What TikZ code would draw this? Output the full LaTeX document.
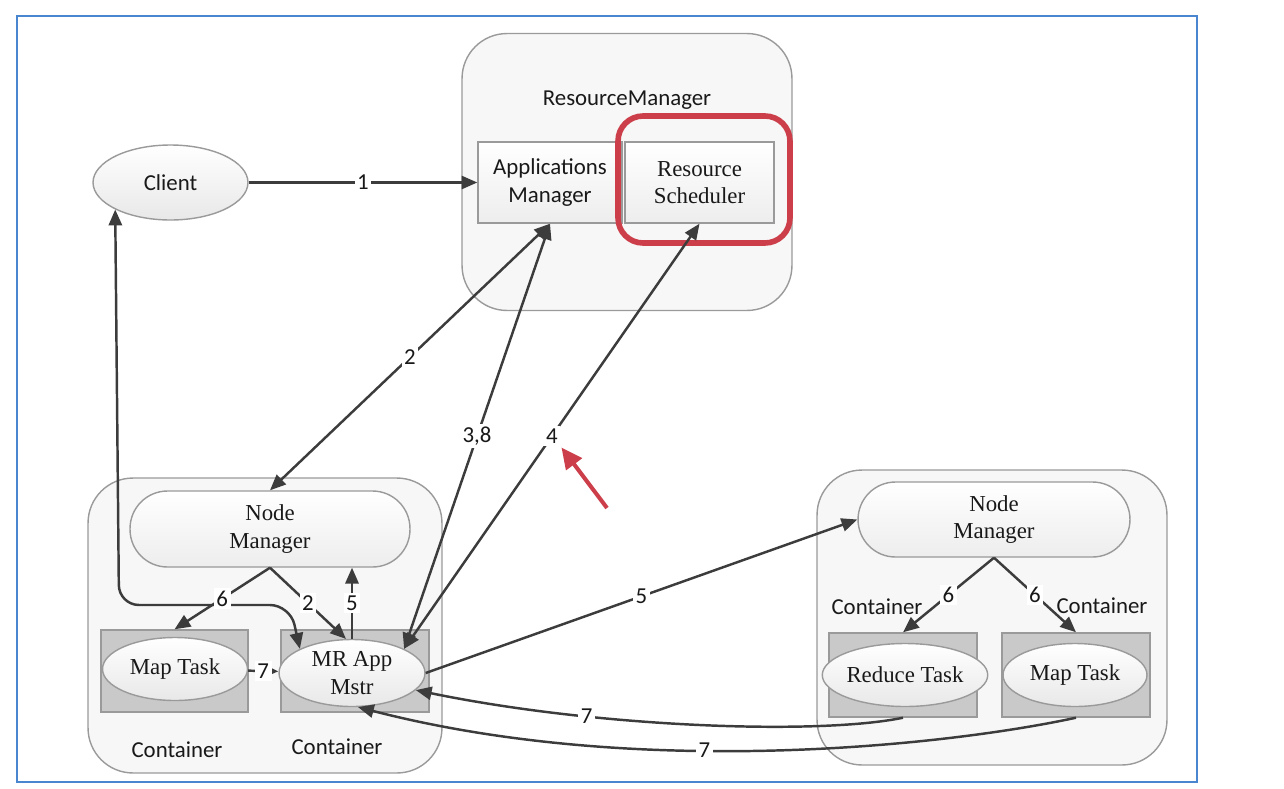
\documentclass[tikz,border=0pt]{standalone}
\usepackage{fontspec}
\setmainfont{Liberation Serif}
\newfontfamily\calibri{Carlito}
\usetikzlibrary{arrows.meta,shapes.geometric}
\definecolor{linegray}{HTML}{3C3C3C}
\definecolor{boxgray}{HTML}{C9C9C9}
\definecolor{edgegray}{HTML}{9A9A9A}
\definecolor{markred}{HTML}{CC3F4A}
\definecolor{frameblue}{HTML}{4A86D0}

\begin{document}
\begin{tikzpicture}[
        x=0.02cm, y=-0.02cm,
        every node/.style={font=\fontsize{13}{15.5}\selectfont, align=center, inner sep=0pt, text=black!90},
        group/.style={draw=edgegray, fill=black!3, line width=0.8pt, rounded corners=0.9cm},
        inbox/.style={draw=edgegray, line width=0.8pt, top color=white, bottom color=black!7},
        pill/.style={draw=edgegray, line width=0.8pt, top color=white, bottom color=black!7, rounded corners=0.75cm},
        cont/.style={draw=edgegray, line width=0.8pt, fill=boxgray},
        task/.style={ellipse, draw=edgegray, line width=0.8pt, top color=white, bottom color=black!9},
        conn/.style={draw=linegray, line width=1.4pt, -{Triangle[length=9pt,width=7.5pt]}},
        both/.style={{Triangle[length=9pt,width=7.5pt]}-{Triangle[length=9pt,width=7.5pt]}},
        num/.style={fill=white, inner sep=1.5pt, font=\calibri\fontsize{13}{15}\selectfont}
    ]
    \useasboundingbox (0,0) rectangle (1284,788);

    % --- 外枠 ---
    \draw[frameblue, line width=0.9pt] (17,16) rectangle (1197,782);

    % --- グループ ---
    \node[group, minimum width=6.6cm, minimum height=5.54cm] (rm) at (627,172) {};
    \node[group, minimum width=7.08cm, minimum height=5.9cm] (groupL) at (265,625.5) {};
    \node[group, minimum width=7.0cm, minimum height=5.9cm] (groupR) at (992,617.5) {};
    \node (rmtitle) at (627,100) {\calibri ResourceManager};

    % --- ResourceManager の中身 ---
    \node[inbox, minimum width=2.88cm, minimum height=1.62cm] (appmgr) at (550,182.5) {\calibri Applications\\\calibri Manager};
    \node[inbox, minimum width=2.98cm, minimum height=1.62cm] (rsched) at (699.5,182.5) {Resource\\Scheduler};
    \node[draw=markred, line width=3.2pt, rounded corners=0.5cm, minimum width=3.44cm, minimum height=2.54cm] (mark) at (704,179.5) {};

    % --- Client ---
    \node[task, minimum width=3.1cm, minimum height=1.5cm] (client) at (170.5,182.5) {\calibri Client};

    % --- 左のノード ---
    \node[pill, minimum width=5.6cm, minimum height=1.52cm] (nmL) at (270,529) {Node\\Manager};
    \node[cont, minimum width=2.94cm, minimum height=1.64cm] (contMapL) at (174.5,671) {};
    \node[cont, minimum width=2.96cm, minimum height=1.64cm] (contMR) at (355,671) {};
    \node[task, minimum width=2.9cm, minimum height=1.26cm] (maptaskL) at (175,669) {Map Task};
    \node[task, minimum width=2.92cm, minimum height=1.34cm] (mrapp) at (352,673) {MR App\\Mstr};
    \node (contlabA) at (177,750) {\calibri Container};
    \node (contlabB) at (337,747) {\calibri Container};

    % --- 右のノード ---
    \node[pill, minimum width=5.44cm, minimum height=1.5cm] (nmR) at (994,519.5) {Node\\Manager};
    \node[cont, minimum width=2.96cm, minimum height=1.68cm] (contReduce) at (903,675) {};
    \node[cont, minimum width=2.96cm, minimum height=1.68cm] (contMapR) at (1076,675) {};
    \node[task, minimum width=2.86cm, minimum height=1.26cm] (reduce) at (905,675) {Reduce Task};
    \node[task, minimum width=2.88cm, minimum height=1.26cm] (maptaskR) at (1075,675) {Map Task};
    \node (contlabC) at (877,607) {\calibri Container};
    \node (contlabD) at (1102,606) {\calibri Container};

    % --- 矢印 ---
    \draw[conn] (client) -- node[num] {1} (appmgr);
    \draw[conn, both] (appmgr.south) -- node[num] {2} (nmL.north);
    \draw[conn, both] (appmgr.south) -- node[num] {3,8} (mrapp.north east);
    \draw[conn, both] (rsched.south) -- node[num] (n4) {4} (mrapp.north east);
    \draw[conn] (mrapp.east) -- node[num] {5} (nmR.west);
    \draw[conn] (mrapp.north) -- node[num] {5} (mrapp.north |- nmL.south);

    % Client と MR App Mstr の線（ラベル 6 より先に描く）
    \draw[conn, both, rounded corners=0.4cm] (client.south west) -- (119,605) -- (290,605) -- (mrapp.north west);

    \draw[conn] (nmL.south) -- node[num] {6} (contMapL.north);
    \draw[conn] (nmL.south) -- node[num] {2} (mrapp.100);
    \draw[conn, -{Triangle[length=6pt,width=5pt]}] (maptaskL) -- node[num] {7} (mrapp);

    \draw[conn] (nmR.south) -- node[num] {6} (contReduce.north);
    \draw[conn] (nmR.south) -- node[num] {6} (contMapR.north);

    \draw[conn] (contReduce.south) .. controls (820,735) and (600,728) .. node[num, pos=0.7] {7} (mrapp.-15);
    \draw[conn] (contMapR.south) .. controls (950,745) and (640,780) .. node[num, pos=0.59] {7} (mrapp.-80);

    % --- 赤い注釈の矢印 ---
    \coordinate (redtail) at (607,508);
    \draw[markred, line width=2.3pt, -{Triangle[length=12pt,width=11pt]}] (redtail) -- (n4.south east);
\end{tikzpicture}
\end{document}
